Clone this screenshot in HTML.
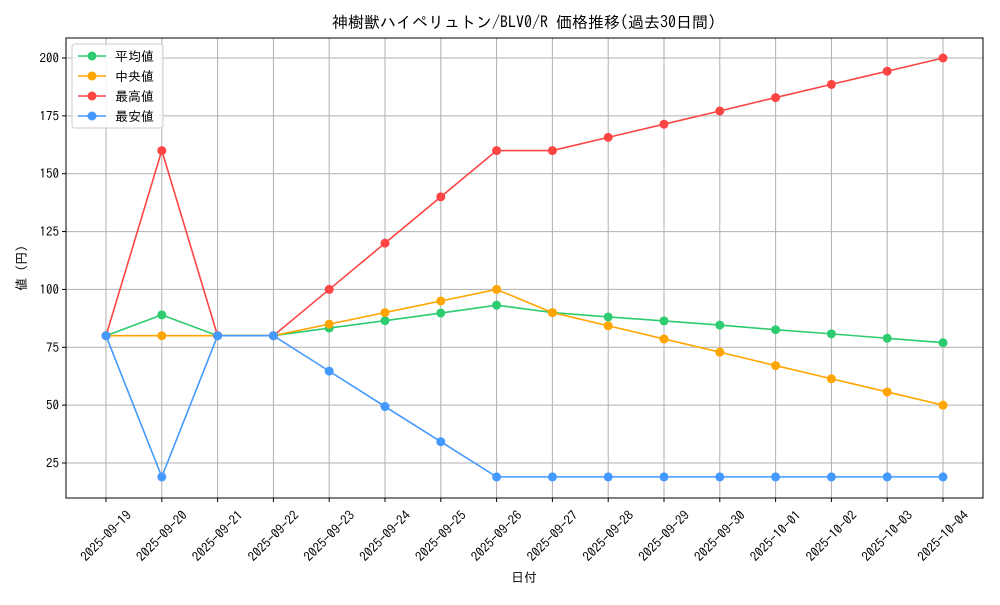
<!DOCTYPE html>
<html><head><meta charset="utf-8"><style>
body{margin:0;background:#fff;}
svg{font-family:"IPAGothic","Noto Sans CJK JP","Liberation Sans",sans-serif;}
</style></head><body>
<svg id="c" width="1000" height="600"></svg>
<script>
const dates=["2025-09-19","2025-09-20","2025-09-21","2025-09-22","2025-09-23","2025-09-24","2025-09-25","2025-09-26","2025-09-27","2025-09-28","2025-09-29","2025-09-30","2025-10-01","2025-10-02","2025-10-03","2025-10-04"];
const avgVals=[80,89,80,80,83.3,86.5,89.8,93.2,90,88.1,86.4,84.6,82.6,80.8,78.9,77];
const medVals=[80,80,80,80,85,90,95,100,90,84.3,78.6,72.9,67.1,61.4,55.7,50];
const maxVals=[80,160,80,80,100,120,140,160,160,165.7,171.4,177.1,182.9,188.6,194.3,200];
const minVals=[80,19,80,80,64.7,49.4,34.2,19,19,19,19,19,19,19,19,19];
const yTicks=[25,50,75,100,125,150,175,200];
const seriesNames=["平均値","中央値","最高値","最安値"];
const colors=["#2ecc71","#ffa500","#ff4444","#4499ff"];
const NS="http://www.w3.org/2000/svg";
const svg=document.getElementById("c");
const L=66,R=983,T=38,B=498;
const x=i=>106+i*(943-106)/(dates.length-1);
const y=v=>463-(v-25)*(463-58)/175;
function mk(tag,attrs,parent){const e=document.createElementNS(NS,tag);for(const k in attrs)e.setAttribute(k,attrs[k]);(parent||svg).appendChild(e);return e;}
const grid=mk("g",{});


dates.forEach((d,i)=>{
 mk("line",{x1:x(i),x2:x(i),y1:T,y2:B,stroke:"#b0b0b0","stroke-width":1},grid);
 mk("line",{x1:x(i),x2:x(i),y1:B,y2:B+4,stroke:"#000"});
 const t=mk("text",{x:0,y:0,"font-size":13,"text-anchor":"middle","dominant-baseline":"central",transform:`translate(${x(i)},${B+38}) rotate(-45)`});
 t.textContent=d;
 
 
});
yTicks.forEach(v=>{
 mk("line",{x1:L,x2:R,y1:y(v),y2:y(v),stroke:"#b0b0b0","stroke-width":1},grid);
 mk("line",{x1:L-4,x2:L,y1:y(v),y2:y(v),stroke:"#000"});
 const t=mk("text",{x:L-7,y:y(v)+4.5,"font-size":13,"text-anchor":"end"});
 t.textContent=v;
 
 
});
const frame=mk("rect",{x:L,y:T,width:R-L,height:B-T,fill:"none",stroke:"#000","stroke-width":1});


[avgVals,medVals,maxVals,minVals].forEach((vals,s)=>{
 const g=mk("g",{});
 
 
 mk("polyline",{points:vals.map((v,i)=>x(i)+","+y(v)).join(" "),fill:"none",stroke:colors[s],"stroke-width":1.6},g);
 vals.forEach((v,i)=>{const c=mk("circle",{cx:x(i),cy:y(v),r:4.5,fill:colors[s]},g);
  
  });
});
const title=mk("text",{x:524,y:28,"font-size":16,"text-anchor":"middle"});
title.textContent="神樹獣ハイペリュトン/BLV0/R 価格推移(過去30日間)";


const xt=mk("text",{x:524,y:582,"font-size":13,"text-anchor":"middle"});
xt.textContent="日付";


const yt=mk("text",{x:0,y:0,"font-size":13,"text-anchor":"middle",transform:"translate(26,268) rotate(-90)"});
yt.textContent="値 (円)";


const lg=mk("g",{});


mk("rect",{x:72,y:44,width:91,height:84,rx:3,fill:"#fff","fill-opacity":0.85,stroke:"#ccc"},lg);
seriesNames.forEach((n,s)=>{
 const yy=56+s*20;
 const e=mk("g",{},lg);
 
 
 mk("line",{x1:78,x2:106,y1:yy,y2:yy,stroke:colors[s],"stroke-width":1.6},e);
 mk("circle",{cx:92,cy:yy,r:4.5,fill:colors[s]},e);
 const t=mk("text",{x:115,y:yy+5,"font-size":13},e);t.textContent=n;
});
</script>
</body></html>
